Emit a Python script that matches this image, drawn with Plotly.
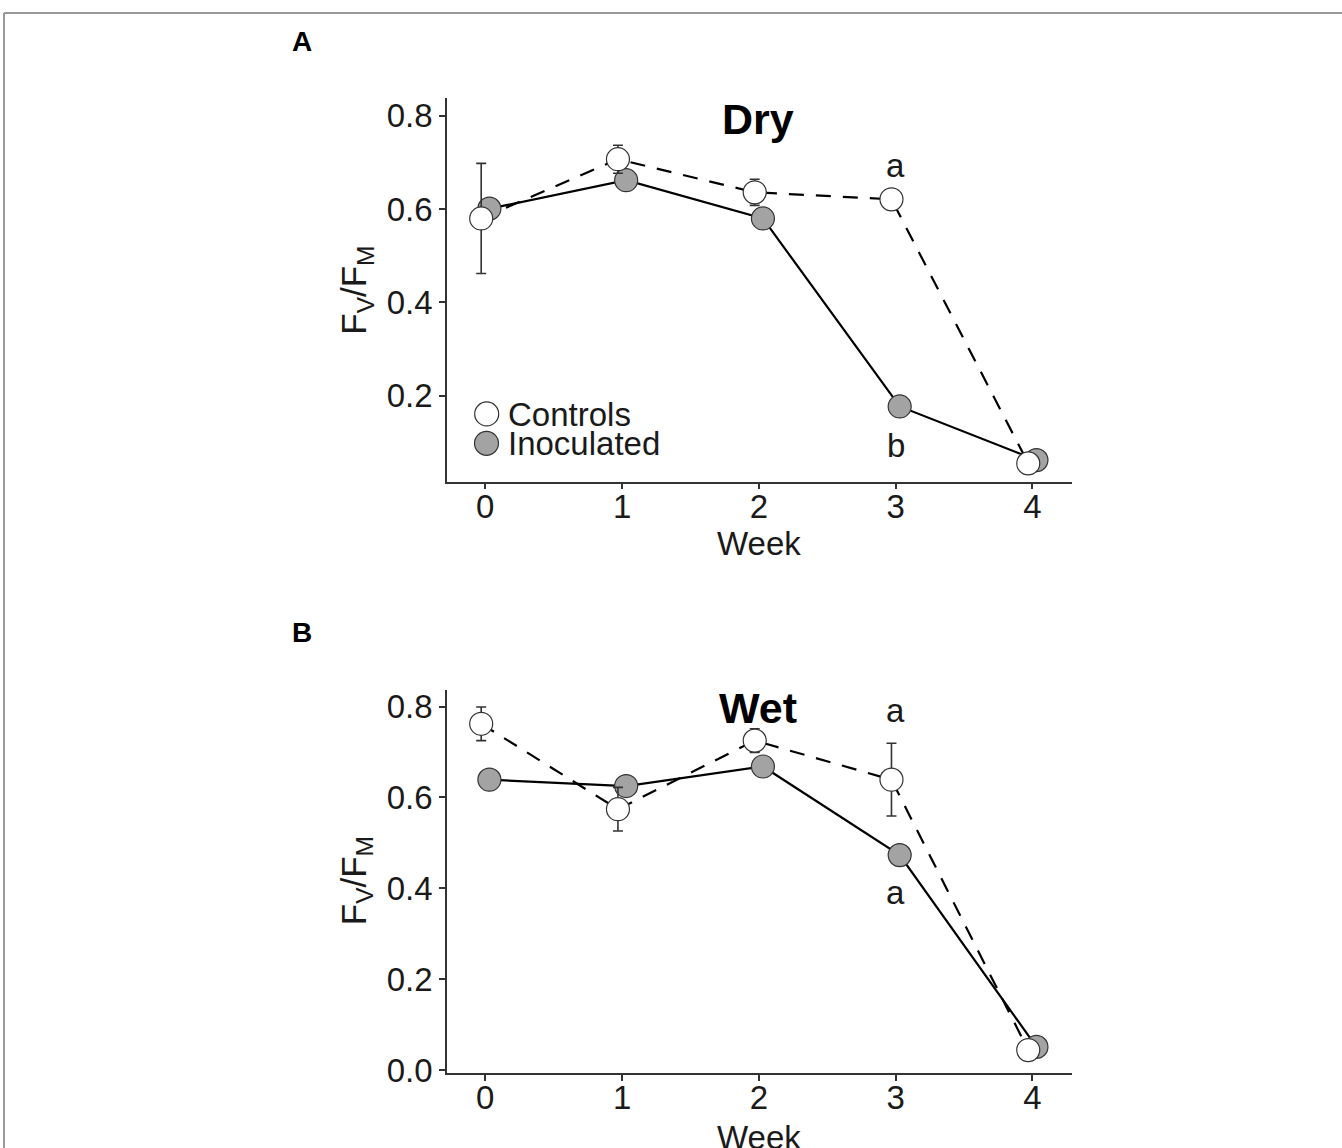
import plotly.graph_objects as go
import numpy as np

# ---------------- data ----------------
weeks = [0, 1, 2, 3, 4]
week_labels = ["0", "1", "2", "3", "4"]

dry_controls = [0.580, 0.707, 0.636, 0.621, 0.055]
dry_controls_err = [0.118, 0.030, 0.028, 0.008, 0.005]
dry_inoculated = [0.601, 0.662, 0.580, 0.177, 0.062]
dry_inoculated_err = [0.010, 0.010, 0.010, 0.020, 0.005]

wet_controls = [0.762, 0.574, 0.725, 0.639, 0.044]
wet_controls_err = [0.037, 0.048, 0.026, 0.080, 0.005]
wet_inoculated = [0.639, 0.625, 0.668, 0.473, 0.051]
wet_inoculated_err = [0.010, 0.010, 0.010, 0.010, 0.005]

yticks_dry = [0.2, 0.4, 0.6, 0.8]
yticks_wet = [0.0, 0.2, 0.4, 0.6, 0.8]
ytick_labels_dry = ["0.2", "0.4", "0.6", "0.8"]
ytick_labels_wet = ["0.0", "0.2", "0.4", "0.6", "0.8"]

# significance letters at week 3: (controls, inoculated)
dry_letters = ["a", "b"]
wet_letters = ["a", "a"]
letter_week = 3

# ---------------- layout helpers ----------------
W = 1342
REF_H = 1148          # target picture height (layout coordinates are given in it)
H = 1164              # figure height (the page is captured slightly compressed)
FONT = "Liberation Sans, Arial, Helvetica, sans-serif"
INK = "#1a1a1a"
AX = "#333333"


def px(x):
    return x / W


def py(y):
    return 1 - y / REF_H


dodge = 0.03
wk = np.array(weeks, dtype=float)
x_ctrl = wk - dodge
x_inoc = wk + dodge

fig = go.Figure()


def add_panel(xa, ya, ctrl, ctrl_err, inoc, inoc_err):
    # lines first (under all points)
    fig.add_trace(go.Scatter(x=x_inoc, y=inoc, mode="lines",
                             line=dict(color="black", width=2.2),
                             xaxis=xa, yaxis=ya, showlegend=False, hoverinfo="skip"))
    fig.add_trace(go.Scatter(x=x_ctrl, y=ctrl, mode="lines",
                             line=dict(color="black", width=2.2, dash="15px,12px"),
                             xaxis=xa, yaxis=ya, showlegend=False, hoverinfo="skip"))
    # inoculated points
    fig.add_trace(go.Scatter(x=x_inoc, y=inoc, mode="markers",
                             marker=dict(size=23, color="#a3a3a3",
                                         line=dict(color=AX, width=1.2)),
                             error_y=dict(type="data", array=inoc_err, visible=True,
                                          color=AX, thickness=1.6, width=5),
                             xaxis=xa, yaxis=ya, showlegend=False, name="Inoculated"))
    # controls points
    fig.add_trace(go.Scatter(x=x_ctrl, y=ctrl, mode="markers",
                             marker=dict(size=23, color="white",
                                         line=dict(color=AX, width=1.2)),
                             error_y=dict(type="data", array=ctrl_err, visible=True,
                                          color=AX, thickness=1.6, width=5),
                             xaxis=xa, yaxis=ya, showlegend=False, name="Controls"))


add_panel("x", "y", dry_controls, dry_controls_err, dry_inoculated, dry_inoculated_err)
add_panel("x2", "y2", wet_controls, wet_controls_err, wet_inoculated, wet_inoculated_err)

axis_common = dict(showgrid=False, zeroline=False, showline=True, linecolor=AX,
                   linewidth=1.6, ticks="outside", ticklen=6, tickwidth=1.6,
                   tickcolor=AX, tickfont=dict(family=FONT, size=33, color=INK))

fig.update_layout(
    width=W, height=H,
    margin=dict(l=0, r=0, t=0, b=0),
    paper_bgcolor="white", plot_bgcolor="white",
    showlegend=False,
    xaxis=dict(domain=[px(447), px(1072)], range=[-0.28, 4.29],
               tickvals=weeks, ticktext=week_labels, anchor="y",
               ticklabelstandoff=-11, **axis_common),
    yaxis=dict(domain=[py(481), py(96.7)], range=[0.016, 0.839],
               tickvals=yticks_dry, ticktext=ytick_labels_dry, anchor="x", **axis_common),
    xaxis2=dict(domain=[px(447), px(1072)], range=[-0.28, 4.29],
                tickvals=weeks, ticktext=week_labels, anchor="y2",
                ticklabelstandoff=-11, **axis_common),
    yaxis2=dict(domain=[py(1073), py(689.3)], range=[-0.0066, 0.837],
                tickvals=yticks_wet, ticktext=ytick_labels_wet, anchor="x2", **axis_common),
)

ann = []
txt = dict(family=FONT, size=33, color=INK)
C = dict(xanchor="center", yanchor="middle", showarrow=False)
# panel letters
ann.append(dict(text="<b>A</b>", x=px(302), y=py(41), xref="paper", yref="paper",
                font=dict(family=FONT, size=28, color="black"), **C))
ann.append(dict(text="<b>B</b>", x=px(302), y=py(632), xref="paper", yref="paper",
                font=dict(family=FONT, size=28, color="black"), **C))
# panel titles
ann.append(dict(text="<b>Dry</b>", x=px(758), y=py(118), xref="paper", yref="paper",
                font=dict(family=FONT, size=43, color="black"), **C))
ann.append(dict(text="<b>Wet</b>", x=px(758), y=py(708), xref="paper", yref="paper",
                font=dict(family=FONT, size=43, color="black"), **C))
# axis titles
for ycen in (543, 1137):
    ann.append(dict(text="Week", x=px(759), y=py(ycen), xref="paper", yref="paper",
                    font=txt, **C))
for ycen in (290, 881):
    ann.append(dict(text="F<sub>V</sub>/F<sub>M</sub>", x=px(356), y=py(ycen),
                    xref="paper", yref="paper", textangle=-90,
                    font=dict(family=FONT, size=35, color=INK), **C))
# significance letters
i3 = weeks.index(letter_week)
ann.append(dict(text=dry_letters[0], x=letter_week, y=dry_controls[i3], xref="x", yref="y",
                yshift=34, font=txt, **C))
ann.append(dict(text=dry_letters[1], x=letter_week, y=dry_inoculated[i3], xref="x", yref="y",
                yshift=-39, font=txt, **C))
ann.append(dict(text=wet_letters[0], x=letter_week, y=wet_controls[i3], xref="x2", yref="y2",
                yshift=69, font=txt, **C))
ann.append(dict(text=wet_letters[1], x=letter_week, y=wet_inoculated[i3], xref="x2", yref="y2",
                yshift=-37, font=txt, **C))
# legend text
ann.append(dict(text="Controls", x=px(506), y=py(413.5), xref="paper", yref="paper",
                xanchor="left", yanchor="middle", showarrow=False, font=txt))
ann.append(dict(text="Inoculated", x=px(506), y=py(442.5), xref="paper", yref="paper",
                xanchor="left", yanchor="middle", showarrow=False, font=txt))

shapes = []
# legend keys
for (cx, cy, fill) in ((486.7, 413.3, "white"), (486.5, 442.7, "#a3a3a3")):
    r = 12
    shapes.append(dict(type="circle", xref="paper", yref="paper",
                       x0=px(cx - r), x1=px(cx + r), y0=py(cy + r), y1=py(cy - r),
                       fillcolor=fill, line=dict(color=AX, width=1.2)))
# outer frame (top and left edges)
shapes.append(dict(type="line", xref="paper", yref="paper", x0=px(4), x1=1, y0=py(12), y1=py(12),
                   line=dict(color="#999999", width=2)))
shapes.append(dict(type="line", xref="paper", yref="paper", x0=px(4), x1=px(4), y0=py(12), y1=0,
                   line=dict(color="#999999", width=2)))

fig.update_layout(annotations=ann, shapes=shapes)

fig.write_html("out.html", config={"displayModeBar": False},
               post_script="document.body.style.margin='0';document.body.style.overflow='hidden';")
